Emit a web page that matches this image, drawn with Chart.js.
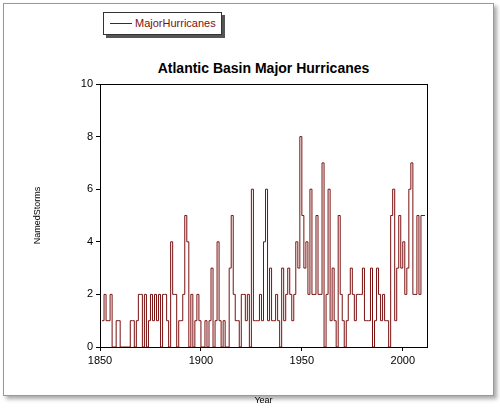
<!DOCTYPE html>
<html><head><meta charset="utf-8">
<script src="https://cdn.jsdelivr.net/npm/chart.js@4"></script>
<style>
body{margin:0;background:#fff;font-family:"Liberation Sans",Arial,sans-serif;}
#frame{position:absolute;left:3px;top:3px;width:489px;height:391px;border:1px solid #999;box-shadow:3px 3px 4px #aaa;background:#fff;}
#leg{position:absolute;left:103px;top:12px;width:117px;height:21px;border:1px solid #333;box-shadow:3px 3px 0 #555;background:#fff;font-size:11px;color:#7a1010;}
#leg span.l{position:absolute;left:6px;top:10px;width:22px;border-top:1px solid #7a1010;}
#leg span.t{position:absolute;left:31px;top:4px;}
#title{position:absolute;left:100px;width:327px;top:60px;text-align:center;font-weight:bold;font-size:14px;}
canvas{position:absolute;left:0;top:0;}
</style></head><body>
<div id="frame"></div>
<div id="leg"><span class="l"></span><span class="t">MajorHurricanes</span></div>
<div id="title">Atlantic Basin Major Hurricanes</div>
<canvas id="c" width="500" height="410"></canvas>
<script>
const years=[];for(let y=1851;y<=2011;y++)years.push(y);
const counts=[1,1,2,1,1,2,0,0,1,1,0,0,0,0,0,1,1,0,1,2,2,0,2,0,1,2,1,2,1,2,0,2,2,1,0,4,2,2,0,1,1,2,5,4,0,2,0,1,2,1,0,0,1,0,1,3,0,1,4,1,0,1,0,0,3,5,2,1,1,0,2,2,1,2,0,6,1,1,1,2,1,4,6,1,3,1,1,2,1,0,3,1,2,3,2,1,2,4,3,8,5,3,4,2,6,2,2,5,2,2,7,0,2,6,1,3,1,0,5,2,1,0,1,2,3,2,1,2,2,2,3,1,1,1,3,0,1,3,2,1,2,1,1,0,5,6,1,3,5,3,4,2,3,6,7,2,2,5,2,5,5];
const yTicks=[0,2,4,6,8,10];
const xTicks=[1850,1900,1950,2000];
const pts=years.map((y,i)=>({x:y,y:counts[i]}));
const box={id:'box',afterDraw(c){const a=c.chartArea,x=c.ctx;x.save();x.strokeStyle='#000';x.lineWidth=1;x.strokeRect(a.left+.5,a.top+.5,a.width,a.height);x.restore();}};
new Chart(document.getElementById('c'),{type:'line',
data:{datasets:[{data:pts,stepped:'after',borderColor:'#7a1010',borderWidth:1,pointRadius:0,fill:false}]},
options:{responsive:false,animation:false,layout:{padding:{top:84,right:73,left:28,bottom:0}},
plugins:{legend:{display:false},tooltip:{enabled:false}},
scales:{
x:{type:'linear',min:1850,max:2012,afterBuildTicks(s){s.ticks=xTicks.map(v=>({value:v}));},
 afterFit(s){s.height=63;},
 grid:{drawOnChartArea:false,tickLength:4,color:'#000'},border:{color:'#000'},
 ticks:{color:'#000',font:{size:11},maxRotation:0,callback:v=>String(v)},
 title:{display:true,text:'Year',color:'#000',font:{size:9},padding:{top:8}}},
y:{min:0,max:10,afterBuildTicks(s){s.ticks=yTicks.map(v=>({value:v}));},
 afterFit(s){s.width=72;},
 grid:{drawOnChartArea:false,tickLength:4,color:'#000'},border:{color:'#000'},
 ticks:{color:'#000',font:{size:11}},
 title:{display:true,text:'NamedStorms',color:'#000',font:{size:9}}}}},
plugins:[box]});
</script></body></html>
